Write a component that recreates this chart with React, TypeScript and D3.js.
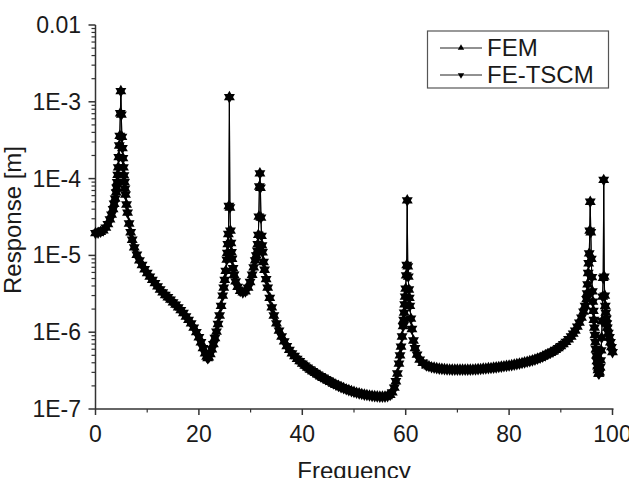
import React from 'react';
import * as d3 from 'd3';

const X_TICKS = [0, 20, 40, 60, 80, 100];
const X_MINOR = [10, 30, 50, 70, 90];
const Y_TICKS = [1e-7, 1e-6, 1e-5, 1e-4, 1e-3, 1e-2];
const Y_LABELS = ['1E-7', '1E-6', '1E-5', '1E-4', '1E-3', '0.01'];
const SERIES = ['FEM', 'FE-TSCM'];

// [frequency, response in m]
const FEM: [number, number][] = [
  [0, 1.95e-5], [0.5, 1.97e-5], [1, 2.03e-5], [1.5, 2.12e-5], [2, 2.3e-5], [2.4, 2.55e-5],
  [2.8, 2.95e-5], [3.1, 3.4e-5], [3.4, 4.0e-5], [3.6, 4.7e-5], [3.8, 5.5e-5], [4.0, 6.6e-5],
  [4.1, 7.6e-5], [4.2, 9.0e-5], [4.3, 1.12e-4], [4.4, 1.4e-4], [4.5, 1.9e-4], [4.6, 2.7e-4],
  [4.7, 3.6e-4], [4.8, 7.1e-4], [4.9, 1.38e-3], [5.0, 6.8e-4], [5.1, 3.5e-4], [5.2, 2.5e-4],
  [5.3, 1.85e-4], [5.4, 1.4e-4], [5.5, 1.1e-4], [5.6, 9.0e-5], [5.7, 7.4e-5], [5.8, 6.2e-5],
  [6.0, 4.6e-5], [6.2, 3.6e-5], [6.5, 2.6e-5], [6.8, 2.0e-5], [7.1, 1.6e-5], [7.5, 1.27e-5],
  [8.0, 1.02e-5], [8.5, 8.6e-6], [9, 7.5e-6], [9.5, 6.6e-6], [10, 5.9e-6], [10.5, 5.3e-6],
  [11, 4.8e-6], [11.5, 4.35e-6], [12, 3.95e-6], [12.5, 3.6e-6], [13, 3.3e-6], [13.5, 3.05e-6],
  [14, 2.85e-6], [14.5, 2.65e-6], [15, 2.45e-6], [15.5, 2.28e-6], [16, 2.1e-6], [16.5, 1.94e-6],
  [17, 1.78e-6], [17.5, 1.6e-6], [18, 1.45e-6], [18.5, 1.3e-6], [19, 1.15e-6], [19.5, 1.0e-6],
  [20, 8.6e-7], [20.4, 7.4e-7], [20.8, 6.2e-7], [21.2, 5.3e-7], [21.5, 4.8e-7], [21.7, 4.6e-7],
  [21.9, 4.7e-7], [22.2, 5.2e-7], [22.5, 6.0e-7], [22.8, 7.0e-7], [23.1, 8.4e-7], [23.4, 1.02e-6],
  [23.7, 1.28e-6], [24.0, 1.65e-6], [24.3, 2.2e-6], [24.6, 3.0e-6], [24.8, 3.8e-6], [25.0, 4.8e-6],
  [25.2, 6.3e-6], [25.4, 8.8e-6], [25.5, 1.08e-5], [25.6, 1.4e-5], [25.7, 1.9e-5], [25.8, 4.4e-5],
  [25.9, 1.15e-3], [26.0, 4.2e-5], [26.1, 2.1e-5], [26.2, 1.45e-5], [26.3, 1.1e-5], [26.4, 9.0e-6],
  [26.6, 6.8e-6], [26.8, 5.6e-6], [27.1, 4.6e-6], [27.5, 3.9e-6], [28.0, 3.45e-6], [28.5, 3.3e-6],
  [29.0, 3.4e-6], [29.5, 3.8e-6], [29.9, 4.5e-6], [30.3, 5.6e-6], [30.6, 7.0e-6], [30.9, 8.6e-6],
  [31.1, 1.0e-5], [31.3, 1.15e-5], [31.4, 1.4e-5], [31.5, 1.85e-5], [31.6, 3.2e-5], [31.7, 7.9e-5],
  [31.8, 1.17e-4], [31.9, 7.6e-5], [32.0, 3.1e-5], [32.1, 1.8e-5], [32.2, 1.35e-5], [32.3, 1.1e-5],
  [32.5, 8.2e-6], [32.7, 6.5e-6], [33.0, 4.9e-6], [33.3, 3.8e-6], [33.7, 2.8e-6], [34.1, 2.1e-6],
  [34.5, 1.65e-6], [35.0, 1.3e-6], [35.5, 1.05e-6], [36.0, 8.8e-7], [36.5, 7.6e-7], [37, 6.6e-7],
  [37.5, 5.9e-7], [38, 5.3e-7], [38.5, 4.9e-7], [39, 4.5e-7], [39.5, 4.2e-7], [40, 3.9e-7],
  [40.5, 3.67e-7], [41, 3.45e-7], [41.5, 3.27e-7], [42, 3.1e-7], [42.5, 2.95e-7], [43, 2.8e-7],
  [43.5, 2.67e-7], [44, 2.55e-7], [44.5, 2.45e-7], [45, 2.35e-7], [45.5, 2.25e-7], [46, 2.15e-7],
  [46.5, 2.07e-7], [47, 2.0e-7], [47.5, 1.93e-7], [48, 1.87e-7], [48.5, 1.81e-7], [49, 1.76e-7],
  [49.5, 1.71e-7], [50, 1.67e-7], [50.5, 1.63e-7], [51, 1.6e-7], [51.5, 1.57e-7], [52, 1.54e-7],
  [52.5, 1.52e-7], [53, 1.5e-7], [53.5, 1.48e-7], [54, 1.47e-7], [54.5, 1.46e-7], [55, 1.45e-7],
  [55.5, 1.45e-7], [56, 1.45e-7], [56.5, 1.47e-7], [57, 1.53e-7], [57.4, 1.65e-7], [57.8, 1.9e-7],
  [58.1, 2.3e-7], [58.4, 2.9e-7], [58.7, 3.9e-7], [58.9, 5.0e-7], [59.1, 6.5e-7], [59.3, 8.8e-7],
  [59.5, 1.2e-6], [59.6, 1.45e-6], [59.7, 1.8e-6], [59.8, 2.3e-6], [59.9, 2.9e-6], [60.0, 3.7e-6],
  [60.1, 5.5e-6], [60.2, 7.5e-6], [60.3, 5.2e-5], [60.4, 7.2e-6], [60.5, 5.3e-6], [60.6, 3.6e-6],
  [60.7, 2.8e-6], [60.8, 2.2e-6], [61.0, 1.5e-6], [61.2, 1.1e-6], [61.5, 7.8e-7], [61.8, 6.2e-7],
  [62.2, 5.1e-7], [62.7, 4.4e-7], [63.3, 4.0e-7], [64, 3.7e-7], [64.5, 3.6e-7], [65, 3.5e-7],
  [65.5, 3.45e-7], [66, 3.4e-7], [66.5, 3.36e-7], [67, 3.33e-7], [67.5, 3.3e-7], [68, 3.28e-7],
  [68.5, 3.27e-7], [69, 3.26e-7], [69.5, 3.25e-7], [70, 3.25e-7], [70.5, 3.25e-7], [71, 3.25e-7],
  [71.5, 3.25e-7], [72, 3.25e-7], [72.5, 3.26e-7], [73, 3.27e-7], [73.5, 3.28e-7], [74, 3.3e-7],
  [74.5, 3.32e-7], [75, 3.35e-7], [75.5, 3.37e-7], [76, 3.4e-7], [76.5, 3.42e-7], [77, 3.45e-7],
  [77.5, 3.48e-7], [78, 3.52e-7], [78.5, 3.56e-7], [79, 3.6e-7], [79.5, 3.64e-7], [80, 3.68e-7],
  [80.5, 3.73e-7], [81, 3.78e-7], [81.5, 3.84e-7], [82, 3.9e-7], [82.5, 3.97e-7], [83, 4.05e-7],
  [83.5, 4.12e-7], [84, 4.2e-7], [84.5, 4.3e-7], [85, 4.4e-7], [85.5, 4.52e-7], [86, 4.65e-7],
  [86.5, 4.8e-7], [87, 5.0e-7], [87.5, 5.2e-7], [88, 5.4e-7], [88.5, 5.6e-7], [89, 5.9e-7],
  [89.5, 6.2e-7], [90, 6.6e-7], [90.5, 7.0e-7], [91, 7.5e-7], [91.5, 8.1e-7], [92, 8.8e-7],
  [92.4, 9.6e-7], [92.8, 1.05e-6], [93.2, 1.18e-6], [93.6, 1.33e-6], [94.0, 1.55e-6], [94.4, 1.85e-6],
  [94.7, 2.2e-6], [95.0, 2.7e-6], [95.1, 3.2e-6], [95.2, 4.2e-6], [95.3, 5.9e-6], [95.4, 7.9e-6],
  [95.5, 1.06e-5], [95.6, 2.1e-5], [95.7, 5.0e-5], [95.8, 2.0e-5], [95.9, 9.0e-6], [96.0, 5.2e-6],
  [96.1, 3.4e-6], [96.2, 2.5e-6], [96.3, 1.9e-6], [96.4, 1.45e-6], [96.5, 1.15e-6], [96.6, 9.2e-7],
  [96.7, 7.4e-7], [96.8, 6.0e-7], [96.9, 5.0e-7], [97.0, 4.2e-7], [97.1, 3.6e-7], [97.2, 3.2e-7],
  [97.3, 2.9e-7], [97.4, 2.9e-7], [97.5, 3.0e-7], [97.6, 3.5e-7], [97.7, 4.3e-7], [97.8, 5.8e-7],
  [97.9, 8.5e-7], [98.0, 1.4e-6], [98.1, 2.9e-6], [98.2, 5.1e-6], [98.3, 9.6e-5], [98.4, 5.3e-6],
  [98.5, 3.0e-6], [98.6, 2.2e-6], [98.7, 1.8e-6], [98.8, 1.5e-6], [98.9, 1.3e-6], [99.0, 1.15e-6],
  [99.2, 9.8e-7], [99.4, 8.6e-7], [99.6, 7.4e-7], [99.8, 6.4e-7], [100, 5.5e-7],
];

// both solvers give the same curve at this resolution
const FE_TSCM: [number, number][] = FEM;

const W = 629;
const H = 478;
const M = { left: 95.5, right: 612.5, top: 25, bottom: 409 };
const FONT = '"Liberation Sans", Arial, sans-serif';
const AXIS = '#333';
const INK = '#1a1a1a';

export default function App() {
  const x = d3.scaleLinear().domain([0, 100]).range([M.left, M.right]);
  const y = d3.scaleLog().domain([1e-7, 1e-2]).range([M.bottom, M.top]);

  const line = d3
    .line<[number, number]>()
    .x((d) => x(d[0]))
    .y((d) => y(d[1]));

  const tri = d3.symbol().type(d3.symbolTriangle).size(52)() as string;
  const triSmall = d3.symbol().type(d3.symbolTriangle).size(18)() as string;

  // log minor ticks, 2..9 in every decade
  const yMinor: number[] = [];
  for (let e = -7; e < -2; e++) {
    for (let k = 2; k <= 9; k++) yMinor.push(k * Math.pow(10, e));
  }

  const series = [
    { name: SERIES[0], data: FEM, rot: 0 },
    { name: SERIES[1], data: FE_TSCM, rot: 180 },
  ];

  return (
    <div style={{ position: 'absolute', left: 0, top: 0 }}>
      <svg width={W} height={H} style={{ display: 'block', background: '#fff' }} fontFamily={FONT}>
        {/* y axis */}
        <line x1={M.left} x2={M.left} y1={M.top} y2={M.bottom} stroke={AXIS} strokeWidth={1.5} />
        {Y_TICKS.map((t, i) => (
          <g key={'yt' + i}>
            <line x1={M.left - 7} x2={M.left} y1={y(t)} y2={y(t)} stroke={AXIS} strokeWidth={1.5} />
            <text x={81} y={y(t)} dy="0.35em" textAnchor="end" fontSize={23} fill={INK}>
              {Y_LABELS[i]}
            </text>
          </g>
        ))}
        {yMinor.map((t, i) => (
          <line key={'ym' + i} x1={M.left - 4} x2={M.left} y1={y(t)} y2={y(t)} stroke={AXIS} strokeWidth={1.2} />
        ))}
        <text
          transform={`translate(21,${(M.top + M.bottom) / 2 + 3}) rotate(-90)`}
          textAnchor="middle"
          fontSize={24}
          fill={INK}
        >
          Response [m]
        </text>

        {/* x axis */}
        <line x1={M.left} x2={M.right + 1} y1={M.bottom} y2={M.bottom} stroke={AXIS} strokeWidth={1.5} />
        {X_TICKS.map((t) => (
          <g key={'xt' + t}>
            <line x1={x(t)} x2={x(t)} y1={M.bottom} y2={M.bottom + 6} stroke={AXIS} strokeWidth={1.5} />
            <text x={x(t)} y={442} textAnchor="middle" fontSize={23} fill={INK}>
              {t}
            </text>
          </g>
        ))}
        {X_MINOR.map((t) => (
          <line key={'xm' + t} x1={x(t)} x2={x(t)} y1={M.bottom} y2={M.bottom + 3.5} stroke={AXIS} strokeWidth={1.2} />
        ))}
        <text x={(M.left + M.right) / 2} y={479} textAnchor="middle" fontSize={24} fill={INK}>
          Frequency
        </text>

        {/* response curves */}
        {series.map((s) => (
          <g key={s.name}>
            <path d={line(s.data) ?? ''} fill="none" stroke="#000" strokeWidth={1} />
            {s.data.map((d, i) => (
              <path
                key={i}
                d={tri}
                fill="#000"
                transform={`translate(${x(d[0])},${y(d[1])}) rotate(${s.rot})`}
              />
            ))}
          </g>
        ))}

        {/* legend */}
        <rect x={427.5} y={31} width={181} height={57} fill="#fff" stroke="#555" strokeWidth={1.2} />
        {series.map((s, i) => {
          const ly = 48 + i * 27;
          return (
            <g key={'lg' + s.name}>
              <line x1={440} x2={482} y1={ly} y2={ly} stroke="#222" strokeWidth={1} />
              <path d={triSmall} fill="#000" transform={`translate(461,${ly}) rotate(${s.rot})`} />
              <text x={487} y={ly} dy="0.35em" fontSize={24} fill={INK}>
                {s.name}
              </text>
            </g>
          );
        })}
      </svg>
    </div>
  );
}
